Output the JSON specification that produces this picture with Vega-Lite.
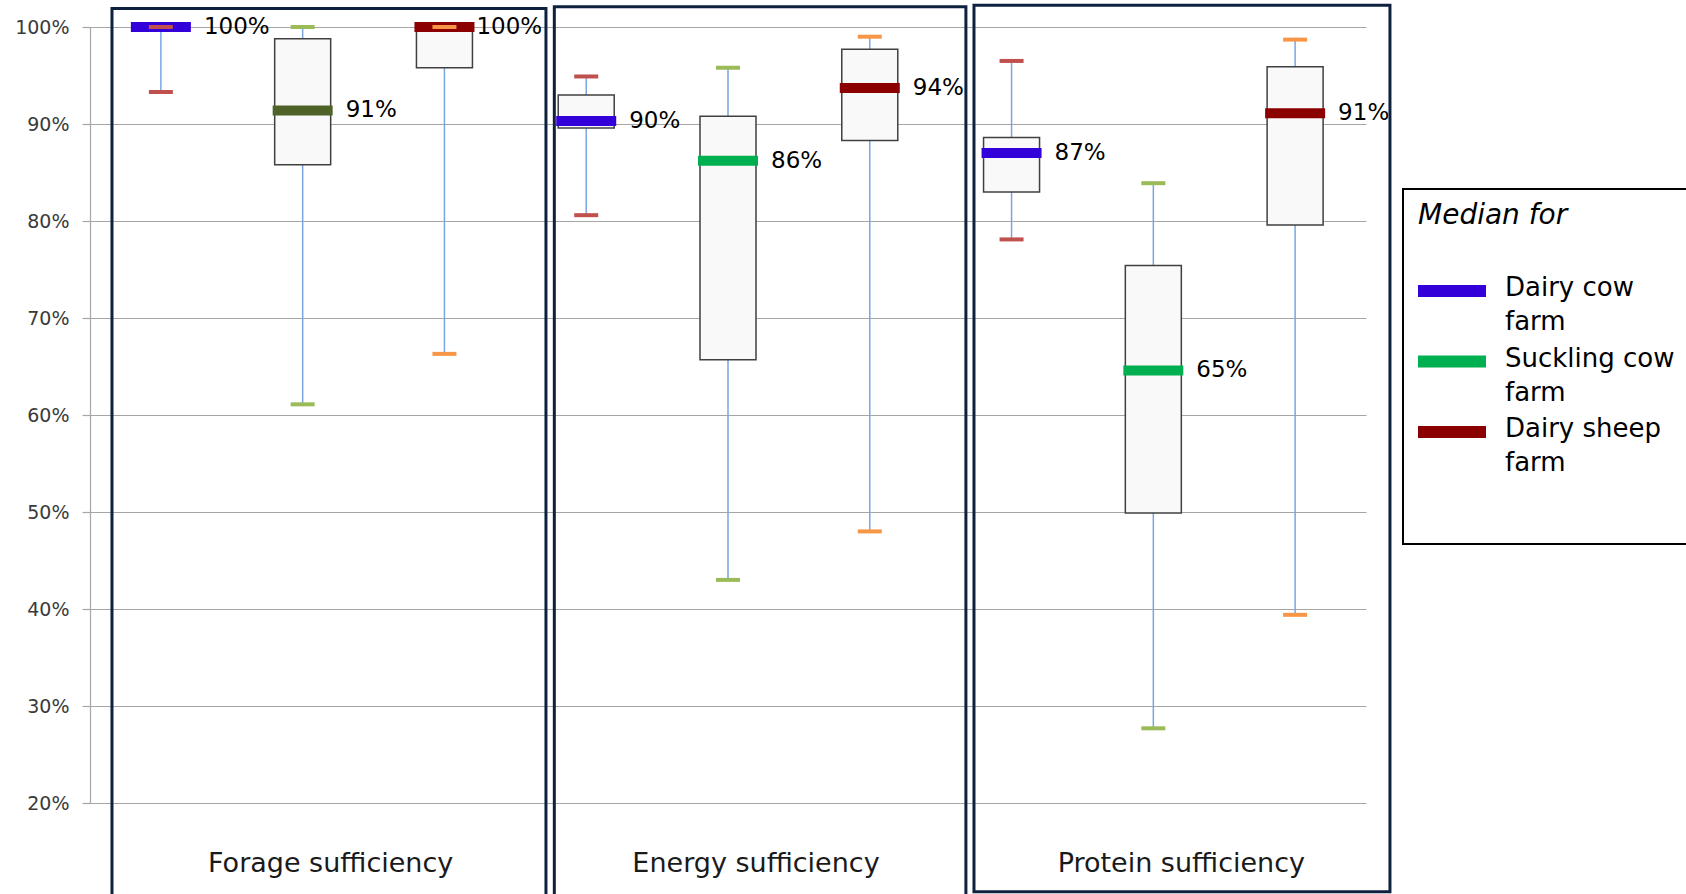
{
  "$schema": "https://vega.github.io/schema/vega-lite/v6.json",
  "width": 1276,
  "height": 776,
  "autosize": {"type": "none"},
  "padding": {"left": 90, "top": 27, "right": 320, "bottom": 91},
  "background": "white",
  "config": {"font": "DejaVu Sans", "view": {"stroke": null}},
  "layer": [
    {
      "data": {
        "values": [
          {"key": "Forage sufficiency|Dairy cow farm", "indicator": "Forage sufficiency", "farm": "Dairy cow farm", "min": 0.933, "q1": 0.997, "median": 1.0, "q3": 1.0, "max": 1.0},
          {"key": "Forage sufficiency|Suckling cow farm", "indicator": "Forage sufficiency", "farm": "Suckling cow farm", "min": 0.611, "q1": 0.858, "median": 0.914, "q3": 0.988, "max": 1.0},
          {"key": "Forage sufficiency|Dairy sheep farm", "indicator": "Forage sufficiency", "farm": "Dairy sheep farm", "min": 0.663, "q1": 0.958, "median": 1.0, "q3": 1.0, "max": 1.0},
          {"key": "Energy sufficiency|Dairy cow farm", "indicator": "Energy sufficiency", "farm": "Dairy cow farm", "min": 0.806, "q1": 0.896, "median": 0.903, "q3": 0.930, "max": 0.949},
          {"key": "Energy sufficiency|Suckling cow farm", "indicator": "Energy sufficiency", "farm": "Suckling cow farm", "min": 0.430, "q1": 0.657, "median": 0.862, "q3": 0.908, "max": 0.958},
          {"key": "Energy sufficiency|Dairy sheep farm", "indicator": "Energy sufficiency", "farm": "Dairy sheep farm", "min": 0.480, "q1": 0.883, "median": 0.937, "q3": 0.977, "max": 0.990},
          {"key": "Protein sufficiency|Dairy cow farm", "indicator": "Protein sufficiency", "farm": "Dairy cow farm", "min": 0.781, "q1": 0.830, "median": 0.870, "q3": 0.886, "max": 0.965},
          {"key": "Protein sufficiency|Suckling cow farm", "indicator": "Protein sufficiency", "farm": "Suckling cow farm", "min": 0.277, "q1": 0.499, "median": 0.646, "q3": 0.754, "max": 0.839},
          {"key": "Protein sufficiency|Dairy sheep farm", "indicator": "Protein sufficiency", "farm": "Dairy sheep farm", "min": 0.394, "q1": 0.796, "median": 0.911, "q3": 0.959, "max": 0.987}
        ]
      },
      "encoding": {
        "x": {
          "field": "key",
          "type": "nominal",
          "sort": null,
          "title": null,
          "scale": {"paddingInner": 0, "paddingOuter": 0},
          "axis": {
            "title": null,
            "domain": false,
            "ticks": false,
            "tickSize": 0,
            "grid": false,
            "labelAngle": 0,
            "labelFontSize": 27,
            "labelColor": "#1a1a1a",
            "labelPadding": 68,
            "labelBaseline": "alphabetic",
            "labelOffset": 28,
            "labelLimit": 400,
            "labelOverlap": false,
            "labelExpr": "indexof(datum.value, 'Suckling') >= 0 ? split(datum.value, '|')[0] : ''"
          }
        }
      },
      "layer": [
        {
          "mark": {"type": "rule", "color": "#79a6e2", "strokeWidth": 1.5},
          "encoding": {
            "y": {
              "field": "min",
              "type": "quantitative",
              "title": null,
              "scale": {"domain": [0.2, 1], "nice": false, "zero": false},
              "axis": {
                "title": null,
                "values": [0.2, 0.3, 0.4, 0.5, 0.6, 0.7, 0.8, 0.9, 1.0],
                "format": ".0%",
                "labelFontSize": 19,
                "labelColor": "#3a3a3a",
                "labelPadding": 13,
                "tickSize": 8,
                "tickColor": "#a6a6a6",
                "tickWidth": 1.2,
                "domainColor": "#a6a6a6",
                "domainWidth": 1.2,
                "grid": true,
                "gridColor": "#a6a6a6",
                "gridWidth": 1.2,
                "gridOpacity": 1
              }
            },
            "y2": {"field": "max"}
          }
        },
        {
          "mark": {"type": "bar", "width": {"band": 0.395}, "fill": "#f9f9f9", "stroke": "#404040", "strokeWidth": 1.5},
          "encoding": {
            "y": {"field": "q1", "type": "quantitative", "title": null},
            "y2": {"field": "q3"}
          }
        },
        {
          "mark": {"type": "tick", "thickness": 10, "size": 60, "opacity": 1},
          "encoding": {
            "y": {"field": "median", "type": "quantitative", "title": null},
            "color": {
              "condition": {"test": "datum.indicator === 'Forage sufficiency' && datum.farm === 'Suckling cow farm'", "value": "#4f6228"},
              "field": "farm",
              "type": "nominal",
              "scale": {"domain": ["Dairy cow farm", "Suckling cow farm", "Dairy sheep farm"], "range": ["#3300d9", "#00b050", "#8b0000"]},
              "legend": {
                "title": "Median for",
                "orient": "none",
                "legendX": 1328,
                "legendY": 175,
                "padding": 0,
                "titleFontSize": 28,
                "titleFontStyle": "italic",
                "titleFontWeight": "normal",
                "titleColor": "black",
                "titlePadding": 41,
                "labelFontSize": 26,
                "labelColor": "black",
                "labelOffset": 47,
                "labelLimit": 400,
                "labelBaseline": "alphabetic",
                "symbolType": "M-1,-0.3H2.4V0.3H-1Z",
                "symbolSize": 1600,
                "symbolStrokeWidth": 0,
                "symbolOpacity": 1,
                "rowPadding": 6.5,
                "labelExpr": "datum.label === 'Dairy sheep farm' ? ['Dairy sheep', 'farm'] : [replace(datum.label, ' farm', ''), '\u2009\u2009farm']",
                "encode": {"labels": {"update": {"lineHeight": {"value": 34}, "dy": {"value": 5}}}}
              }
            }
          }
        },
        {
          "mark": {"type": "tick", "thickness": 4, "size": 24, "opacity": 1},
          "encoding": {
            "y": {"field": "min", "type": "quantitative", "title": null},
            "fill": {
              "field": "farm",
              "type": "nominal",
              "scale": {"domain": ["Dairy cow farm", "Suckling cow farm", "Dairy sheep farm"], "range": ["#c0504d", "#9bbb59", "#f79646"]},
              "legend": null
            }
          }
        },
        {
          "mark": {"type": "tick", "thickness": 4, "size": 24, "opacity": 1},
          "encoding": {
            "y": {"field": "max", "type": "quantitative", "title": null},
            "fill": {"field": "farm", "type": "nominal", "legend": null}
          }
        },
        {
          "transform": [{"filter": "!(datum.indicator === 'Forage sufficiency' && datum.farm === 'Dairy sheep farm')"}],
          "mark": {"type": "text", "align": "left", "baseline": "middle", "dx": 43, "fontSize": 23, "color": "black"},
          "encoding": {
            "y": {"field": "median", "type": "quantitative", "title": null},
            "text": {"field": "median", "type": "quantitative", "format": ".0%"}
          }
        },
        {
          "transform": [{"filter": "datum.indicator === 'Forage sufficiency' && datum.farm === 'Dairy sheep farm'"}],
          "mark": {"type": "text", "align": "left", "baseline": "middle", "dx": 32, "fontSize": 23, "color": "black"},
          "encoding": {
            "y": {"field": "median", "type": "quantitative", "title": null},
            "text": {"field": "median", "type": "quantitative", "format": ".0%"}
          }
        }
      ]
    },
    {
      "data": {
        "values": [
          {"part": "panel", "name": "Forage sufficiency", "from": 0.155, "to": 3.216, "top": 1.019, "bottom": 0.1},
          {"part": "panel", "name": "Energy sufficiency", "from": 3.275, "to": 6.178, "top": 1.021, "bottom": 0.1},
          {"part": "panel", "name": "Protein sufficiency", "from": 6.235, "to": 9.169, "top": 1.0225, "bottom": 0.1086},
          {"part": "legend", "name": "Median for", "from": 9.261, "to": 11.5, "top": 0.833, "bottom": 0.467}
        ]
      },
      "encoding": {
        "x": {"field": "from", "type": "quantitative", "scale": {"domain": [0, 9], "nice": false, "zero": false}, "axis": null},
        "x2": {"field": "to"},
        "y": {"field": "top", "type": "quantitative", "scale": {"domain": [0.2, 1], "nice": false, "zero": false}, "axis": null},
        "y2": {"field": "bottom"}
      },
      "layer": [
        {
          "transform": [{"filter": "datum.part === 'panel'"}],
          "mark": {"type": "rect", "filled": false, "color": "#0e2240", "strokeWidth": 3}
        },
        {
          "transform": [{"filter": "datum.part === 'legend'"}],
          "mark": {"type": "rect", "filled": false, "color": "#000000", "strokeWidth": 2}
        }
      ]
    }
  ],
  "resolve": {"scale": {"x": "independent", "y": "independent"}}
}
